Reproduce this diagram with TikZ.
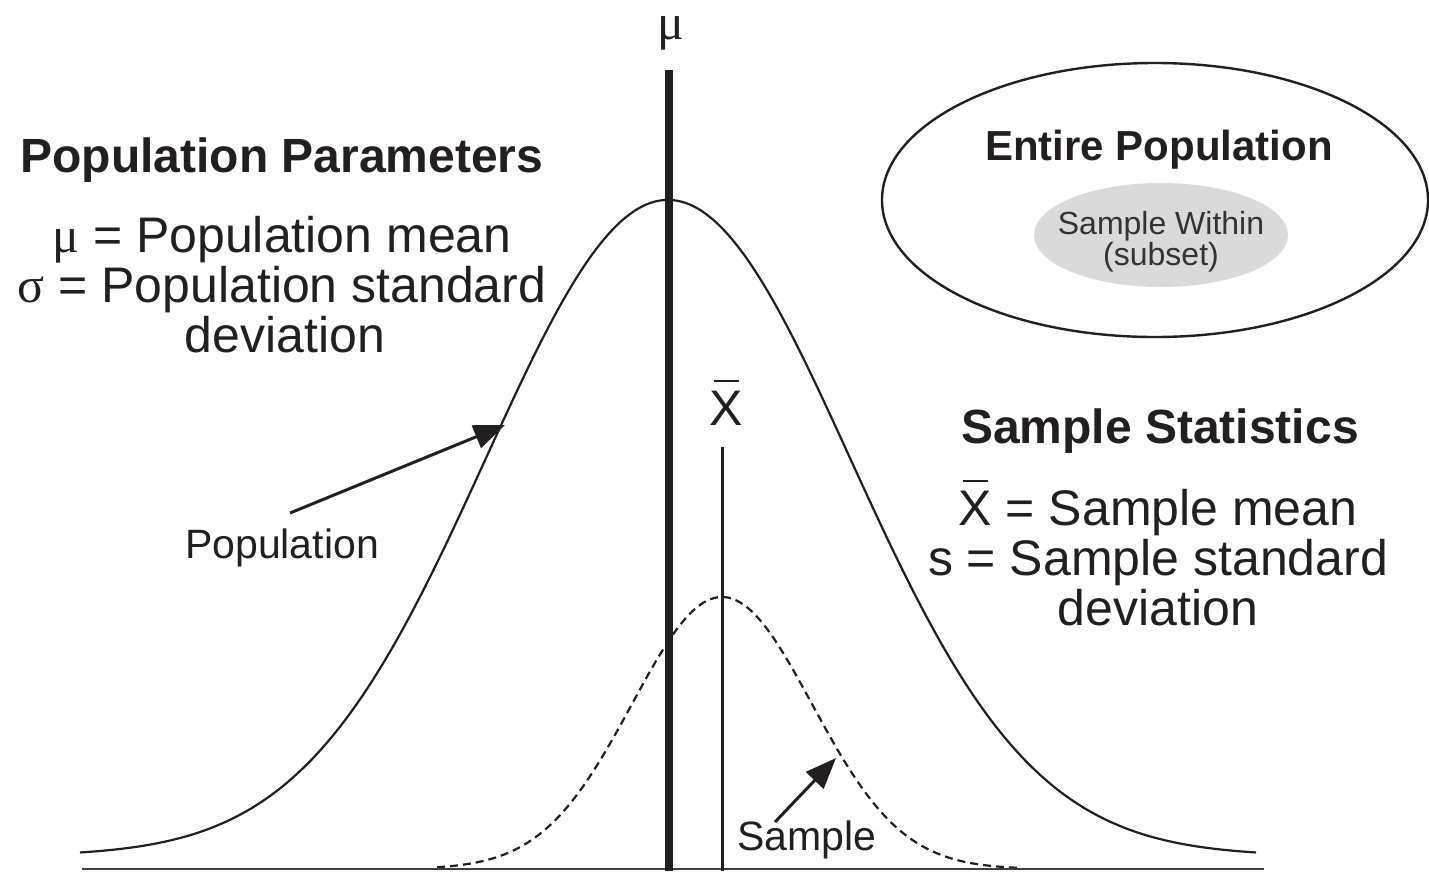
\documentclass[tikz,border=0pt]{standalone}
\usepackage{fontspec}
\setmainfont{Liberation Sans}
\newfontfamily\grk{Liberation Serif}
\usetikzlibrary{arrows.meta,shapes.geometric}
\newcommand\fsz[1]{\fontsize{#1}{#1}\selectfont}
\newcommand\Xbar{\leavevmode\vbox{\offinterlineskip\halign{\hfil##\hfil\cr\rule{0.5em}{0.05em}\cr\noalign{\kern0.17em}X\cr}}}
\definecolor{ink}{HTML}{231F20}
\definecolor{lightfill}{RGB}{218,218,218}
\definecolor{subtext}{HTML}{333333}
\begin{document}
\begin{tikzpicture}[x=1pt,y=-1pt,
  every node/.style={inner sep=0pt, text=ink},
  heading/.style={font=\fsz{48}\bfseries, anchor=base},
  body/.style={font=\fsz{50}, anchor=base},
  smalllabel/.style={font=\fsz{41}, anchor=base},
  curve/.style={line width=2.2pt, draw=ink},
  dashcurve/.style={line width=2.2pt, draw=ink, dash pattern=on 8pt off 5pt},
  pointer/.style={line width=3pt, draw=ink, fill=ink, -{Triangle[length=31pt,width=24pt]}}]
\useasboundingbox (0,0) rectangle (1429,871);

% curves
\draw[curve] plot[domain=80:1256, samples=240, smooth] (\x, {856-656*exp(-0.5*((\x-668)/182)^2)});
\draw[dashcurve] plot[domain=437:1018, samples=160, smooth] (\x, {869-272*exp(-0.5*((\x-722)/90)^2)});

% base line and mean lines
\coordinate (bl) at (82,869);
\coordinate (br) at (1264,869);
\draw[line width=2pt, draw=black!75] (bl) -- (br);
\coordinate (mutop) at (669,70);
\coordinate (mubot) at (669,871);
\draw[line width=7.5pt, draw=ink] (mutop) -- (mubot);
\coordinate (xtop) at (722,447);
\coordinate (xbot) at (722,871);
\draw[line width=3pt, draw=ink] (xtop) -- (xbot);

% labels on the axis
\node[font=\fsz{50}\grk, anchor=base] (mulab) at (671,39) {μ};
\node[body] (xlab) at (726,425) {\Xbar};

% population parameters
\node[heading] (pp) at (282,172) {Population Parameters};
\node[body] (pp1) at (282,252) {{\grk μ} = Population mean};
\node[body] (pp2) at (282,302) {{\grk σ} = Population standard};
\node[body] (pp3) at (285,352) {deviation};

% sample statistics
\node[heading] (ss) at (1160,443) {Sample Statistics};
\node[body] (ss1) at (1158,525) {\Xbar{} = Sample mean};
\node[body] (ss2) at (1158,575) {s = Sample standard};
\node[body] (ss3) at (1158,625) {deviation};

% pointer labels
\node[smalllabel] (poplab) at (282,558) {Population};
\node[smalllabel] (samplab) at (807,850) {Sample};
\coordinate (popfrom) at (290,513);
\coordinate (poptip) at (505,425);
\draw[pointer] (popfrom) -- (poptip);
\coordinate (sampfrom) at (775,822);
\coordinate (samptip) at (836,758);
\draw[pointer] (sampfrom) -- (samptip);

% population ellipse
\node[draw=ink, line width=2.4pt, ellipse, minimum width=546pt, minimum height=274pt] (popell) at (1155,200) {};
\node[ellipse, fill=lightfill, minimum width=254pt, minimum height=104pt] (sampell) at (1161,235) {};
\node[font=\fsz{42}\bfseries, anchor=base] (ep) at (1159,160) {Entire Population};
\node[font=\fsz{32}, anchor=base, text=subtext] (sw1) at (1161,234) {Sample Within};
\node[font=\fsz{32}, anchor=base, text=subtext] (sw2) at (1161,265) {(subset)};
\end{tikzpicture}
\end{document}
